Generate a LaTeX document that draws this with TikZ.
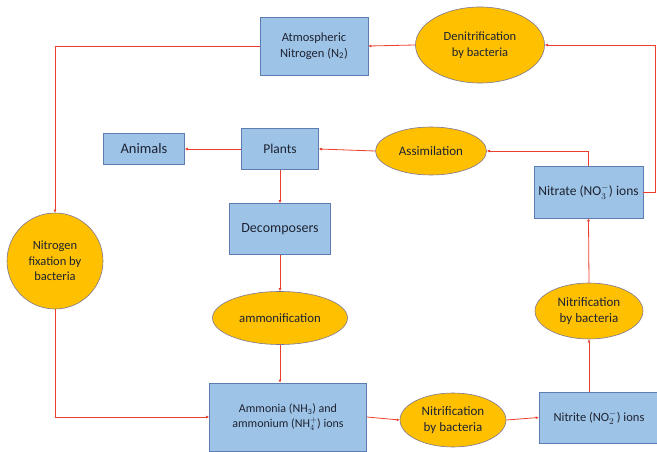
\documentclass[tikz,border=0pt]{standalone}
\usepackage{fontspec}
\setmainfont{Carlito}
\usetikzlibrary{arrows.meta, positioning, shapes.geometric}

\definecolor{flowred}{RGB}{235,62,45}
\definecolor{boxblue}{RGB}{157,195,230}
\definecolor{boxedge}{RGB}{92,125,178}
\definecolor{bactgold}{RGB}{255,192,0}
\definecolor{bactedge}{RGB}{125,118,150}
\definecolor{inkdark}{RGB}{30,35,50}

\newcommand{\fs}[1]{\fontsize{#1}{#1}\selectfont}

\begin{document}
\begin{tikzpicture}[
            x=1pt, y=-1pt,
            every node/.style={font=\fs{11}, text=inkdark},
            box/.style={
                    draw=boxedge,
                    fill=boxblue,
                    line width=0.6pt,
                    inner sep=1pt,
                    align=center
                },
            bacteria/.style={
                    draw=bactedge,
                    fill=bactgold,
                    ellipse,
                    line width=0.6pt,
                    inner sep=0pt,
                    align=center,
                    font=\fs{13}
                },
            flow/.style={
                    -{Latex[length=3pt,width=3pt]},
                    line width=0.8pt,
                    flowred
                }
        ]

        \useasboundingbox (0,0) rectangle (657,452);

        % top row
        \node[box, minimum width=108pt, minimum height=58pt, font=\fs{12.5}] (atmos) at (314,46)
        {Atmospheric\\[3pt]Nitrogen (N\textsubscript{2})};

        \node[bacteria, minimum width=129pt, minimum height=76pt, font=\fs{12.5}] (denit) at (480,45)
        {Denitrification\\[3pt]by bacteria};

        % plants row
        \node[box, minimum width=81pt, minimum height=31pt, font=\fs{14.5}] (animals) at (144,149)
        {Animals};

        \node[box, minimum width=77pt, minimum height=41pt, font=\fs{13.5}] (plants) at (280,149)
        {Plants};

        \node[bacteria, minimum width=111pt, minimum height=48pt] (assim) at (431,151)
        {Assimilation};

        \node[box, minimum width=109pt, minimum height=52pt, font=\fs{13.5}] (nitrate) at (588.5,192)
        {Nitrate (NO$^{-}_{3}$) ions};

        % middle column
        \node[box, minimum width=101pt, minimum height=51pt, font=\fs{14}] (decomp) at (280,229)
        {Decomposers};

        \node[bacteria, minimum width=135pt, minimum height=53pt, font=\fs{12.8}] (ammonif) at (280,318)
        {ammonification};

        \node[circle, draw=bactedge, fill=bactgold, line width=0.6pt,
            minimum size=96pt, inner sep=0pt, align=center, font=\fs{12.5}] (fix) at (55,261)
        {Nitrogen\\[3pt]fixation by\\[3pt]bacteria};

        \node[bacteria, minimum width=108pt, minimum height=56pt] (nitrifB) at (589,311)
        {Nitrification\\[3pt]by bacteria};

        % bottom row
        \node[box, minimum width=157pt, minimum height=68pt, font=\fs{12}] (ammonia) at (288,417)
        {Ammonia (NH\textsubscript{3}) and\\[3pt]ammonium (NH$^{+}_{4}$) ions};

        \node[bacteria, minimum width=106pt, minimum height=54pt] (nitrifA) at (453,420)
        {Nitrification\\[3pt]by bacteria};

        \node[box, minimum width=120pt, minimum height=51pt, font=\fs{12.5}] (nitrite) at (599,417.5)
        {Nitrite (NO$^{-}_{2}$) ions};

        \coordinate (turn) at (655,45);

        \draw[flow] (denit.west) -- (atmos.east);
        \draw[flow] (atmos.west) -| (fix.north);
        \draw[flow] (fix.south) |- (ammonia.west);

        \draw[flow] (ammonia.east) -- (nitrifA.west);
        \draw[flow] (nitrifA.east) -- (nitrite.west);
        \draw[flow] (nitrifB.south |- nitrite.north) -- (nitrifB.south);
        \draw[flow] (nitrifB.north) -- (nitrate.south);

        \draw[flow] (nitrate.north) |- (assim.east);
        \draw[flow] (nitrate.east) -| (turn) -- (denit.east);

        \draw[flow] (assim.west) -- (plants.east);
        \draw[flow] (plants.west) -- (animals.east);
        \draw[flow] (plants.south) -- (decomp.north);
        \draw[flow] (decomp.south) -- (ammonif.north);
        \draw[flow] (ammonif.south) -- (ammonif.south |- ammonia.north);

    \end{tikzpicture}
\end{document}
